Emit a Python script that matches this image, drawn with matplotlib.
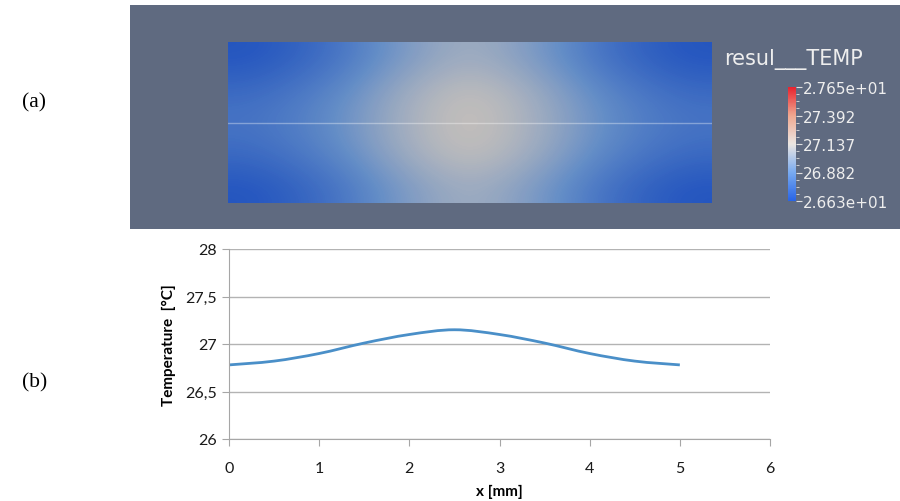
import numpy as np
import matplotlib
matplotlib.use('Agg')
import matplotlib.pyplot as plt
from matplotlib.path import Path
from matplotlib.patches import PathPatch, Rectangle
from matplotlib.colors import Normalize, LinearSegmentedColormap
from matplotlib.cm import ScalarMappable

# ---- data --------------------------------------------------------------
x_mm = [0, 0.5, 1, 1.5, 2, 2.5, 3, 3.5, 4, 4.5, 5]
temp_mid = [26.78, 26.82, 26.90, 27.01, 27.10, 27.15, 27.10, 27.01, 26.90, 26.82, 26.78]

# temperature field (rows: top edge -> bottom edge)
field_top = [26.64, 26.69, 26.77, 26.89, 26.99, 27.04, 26.99, 26.89, 26.77, 26.69, 26.64]
field_q1 = [26.73, 26.78, 26.86, 26.98, 27.08, 27.13, 27.08, 26.98, 26.86, 26.78, 26.73]
field_mid = temp_mid
field_q3 = field_q1
field_bot = field_top

cbar_ticks = [26.627, 26.882, 27.137, 27.392, 27.647]
cbar_labels = ['2.663e+01', '26.882', '27.137', '27.392', '2.765e+01']
y_ticks = [26, 26.5, 27, 27.5, 28]
y_labels = ['26', '26,5', '27', '27,5', '28']
x_ticks = [0, 1, 2, 3, 4, 5, 6]

# ---- figure ------------------------------------------------------------
W, H = 900, 502
fig = plt.figure(figsize=(9, 5.02), dpi=100)
fig.patch.set_facecolor('white')

def box(x0, y0, x1, y1):
    # pixel box (top-left origin) -> figure rect
    return [x0 / W, (H - y1) / H, (x1 - x0) / W, (y1 - y0) / H]

# gray render background
bg = fig.add_axes(box(130, 6, 900, 230))
bg.set_facecolor('#5f6a80')
bg.set_xticks([]); bg.set_yticks([])
for s in bg.spines.values():
    s.set_visible(False)

# paraview-like cool to warm
cmap = LinearSegmentedColormap.from_list(
    'c2w', ['#2864e6', '#78aaf0', '#ebe6e2', '#f0a890', '#e8222e'])
norm = Normalize(vmin=cbar_ticks[0], vmax=cbar_ticks[-1])

# heat map
field = np.array([field_top, field_q1, field_mid, field_q3, field_bot])
hm = fig.add_axes(box(228, 43, 712, 204))
hm.imshow(field, cmap=cmap, norm=norm, interpolation='bicubic',
          extent=[0, 5, 0, 1], aspect='auto', origin='upper')
hm.add_patch(Rectangle((0, 0), 5, 1, color='black', alpha=0.17, lw=0))
hm.axhline(0.5, color='white', alpha=0.35, lw=1)
hm.set_xlim(0, 5); hm.set_ylim(0, 1)
hm.set_xticks([]); hm.set_yticks([])
for s in hm.spines.values():
    s.set_visible(False)

# colour bar
cax = fig.add_axes(box(788, 88, 796, 202))
cb = fig.colorbar(ScalarMappable(norm=norm, cmap=cmap), cax=cax)
cb.outline.set_visible(False)
cb.set_ticks(cbar_ticks)
cb.set_ticklabels(cbar_labels)
cax.minorticks_on()
cax.tick_params(which='major', length=4, width=0.8, color='#e0e0e0',
                labelcolor='#eeeeee', labelsize=11, pad=1)
cax.tick_params(which='minor', length=2, width=0.6, color='#e0e0e0')
for lab in cax.get_yticklabels():
    lab.set_family('DejaVu Sans')
fig.text(724 / W, 1 - 60 / H, 'resul___TEMP', color='#eeeeee', fontsize=15,
         family='DejaVu Sans', va='center', ha='left')

# line chart
ax = fig.add_axes(box(229, 250, 770, 440))
verts = [(x_mm[0], temp_mid[0])]
codes = [Path.MOVETO]
n = len(x_mm)
for i in range(n - 1):
    p0 = np.array([x_mm[max(i - 1, 0)], temp_mid[max(i - 1, 0)]])
    p1 = np.array([x_mm[i], temp_mid[i]])
    p2 = np.array([x_mm[i + 1], temp_mid[i + 1]])
    p3 = np.array([x_mm[min(i + 2, n - 1)], temp_mid[min(i + 2, n - 1)]])
    c1 = p1 + (p2 - p0) / 6
    c2 = p2 - (p3 - p1) / 6
    verts += [tuple(c1), tuple(c2), tuple(p2)]
    codes += [Path.CURVE4] * 3
ax.add_patch(PathPatch(Path(verts, codes), fill=False, edgecolor='#4a8fc8', lw=2))

ax.set_xlim(0, 6)
ax.set_ylim(26, 28)
ax.set_xticks(x_ticks)
ax.set_yticks(y_ticks)
ax.set_yticklabels(y_labels)
ax.grid(axis='y', color='#b3b3b3', lw=1)
ax.set_axisbelow(True)
for s in ['top', 'right']:
    ax.spines[s].set_visible(False)
for s in ['left', 'bottom']:
    ax.spines[s].set_color('#a6a6a6')
ax.tick_params(axis='both', length=5, color='#a6a6a6', labelsize=11.5,
               labelcolor='#1a1a1a', pad=4)
ax.tick_params(axis='x', pad=11)
for lab in ax.get_xticklabels() + ax.get_yticklabels():
    lab.set_family('Lato')
ax.set_xlabel('x [mm]', fontsize=11, fontweight='bold', family='Lato', labelpad=6)
ax.set_ylabel('Temperature  [°C]', fontsize=11, fontweight='bold', family='Lato', labelpad=6)

# panel labels
fig.text(22 / W, 1 - 103 / H, '(a)', fontsize=15.5, family='Liberation Serif', va='center')
fig.text(22 / W, 1 - 383 / H, '(b)', fontsize=15.5, family='Liberation Serif', va='center')

fig.savefig('out.png', dpi=100)
